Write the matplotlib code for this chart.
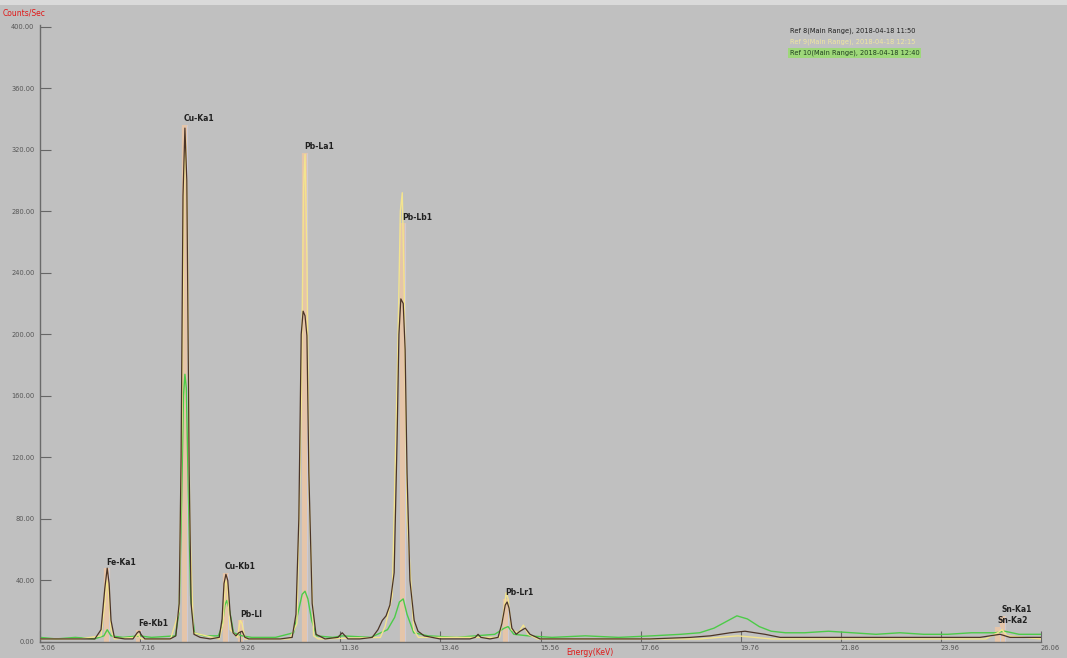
import matplotlib
matplotlib.use("Agg")
import matplotlib.pyplot as plt
from matplotlib.patches import Rectangle

# ---------------- data ----------------
series_names = ["Ref 8(Main Range), 2018-04-18 11:50",
                "Ref 9(Main Range), 2018-04-18 12:15",
                "Ref 10(Main Range), 2018-04-18 12:40"]

brown_e = [5.06, 5.90, 6.21, 6.34, 6.42, 6.47, 6.51, 6.55, 6.62, 6.84, 7.01, 7.10, 7.14, 7.20, 7.26,
           7.47, 7.79, 7.91, 7.98, 8.02, 8.06, 8.10, 8.14, 8.19, 8.23, 8.29, 8.42, 8.63, 8.82, 8.88,
           8.92, 8.96, 9.00, 9.05, 9.11, 9.17, 9.23, 9.30, 9.36, 9.44, 9.68, 10.10, 10.35, 10.43,
           10.49, 10.54, 10.58, 10.62, 10.66, 10.70, 10.77, 10.85, 11.04, 11.31, 11.40, 11.46,
           11.52, 11.77, 12.03, 12.15, 12.24, 12.32, 12.40, 12.49, 12.55, 12.59, 12.63, 12.68,
           12.72, 12.76, 12.82, 12.91, 12.99, 13.12, 13.45, 14.08, 14.19, 14.25, 14.31, 14.50,
           14.67, 14.75, 14.82, 14.86, 14.90, 14.96, 15.05, 15.13, 15.24, 15.34, 15.55, 16.81,
           17.86, 18.70, 19.12, 19.54, 19.85, 20.27, 20.59, 21.00, 22.05, 23.10, 24.15, 24.78,
           25.20, 25.41, 26.06]
brown_c = [2, 2, 2, 8, 35, 48, 38, 14, 3, 2, 2, 6, 7, 4, 2,
           2, 2, 4, 25, 120, 290, 334, 300, 110, 25, 5, 3, 2, 3, 15,
           38, 44, 40, 18, 6, 4, 6, 7, 3, 2, 2, 2, 3, 18,
           80, 200, 215, 212, 199, 110, 25, 5, 2, 3, 6, 4,
           2, 2, 3, 8, 14, 17, 24, 45, 130, 200, 223, 220,
           190, 110, 40, 14, 7, 4, 2, 2, 3, 5, 3, 2,
           3, 12, 24, 26, 22, 9, 5, 7, 9, 5, 2, 2,
           2, 3, 4, 6, 7, 5, 3, 3, 3, 3, 3, 3,
           5, 3, 3]

yellow_e = [5.06, 5.90, 6.34, 6.42, 6.46, 6.50, 6.55, 6.62, 7.05, 7.12, 7.18, 7.80, 7.98, 8.04,
            8.08, 8.11, 8.15, 8.20, 8.28, 8.82, 8.90, 8.95, 8.99, 9.05, 9.20, 9.26, 9.30, 9.36,
            10.30, 10.45, 10.54, 10.59, 10.62, 10.66, 10.71, 10.80, 10.90, 12.20, 12.30, 12.45,
            12.56, 12.62, 12.66, 12.70, 12.76, 12.90, 13.00, 14.70, 14.79, 14.84, 14.88, 14.95,
            15.10, 15.20, 15.30, 15.50, 18.90, 19.70, 20.40, 24.90, 25.15, 25.24, 25.35, 26.06]
yellow_c = [2, 2, 4, 25, 40, 32, 8, 2, 3, 5, 2, 2, 20, 150,
            300, 328, 280, 80, 6, 2, 12, 40, 36, 8, 3, 14, 12, 2,
            2, 12, 150, 295, 317, 250, 90, 4, 2, 3, 10, 30,
            180, 280, 292, 230, 80, 8, 3, 3, 20, 32, 28, 8,
            6, 11, 5, 2, 2, 4, 2, 2, 6, 8, 4, 2]

green_e = [5.06, 5.40, 5.80, 6.20, 6.40, 6.47, 6.55, 6.80, 7.14, 7.40, 7.90, 7.98, 8.03, 8.07,
           8.10, 8.13, 8.17, 8.22, 8.30, 8.50, 8.80, 8.88, 8.94, 8.98, 9.04, 9.12, 9.30, 9.50,
           10.00, 10.38, 10.48, 10.56, 10.62, 10.68, 10.76, 10.86, 11.20, 11.40, 12.00, 12.35,
           12.50, 12.60, 12.68, 12.76, 12.90, 13.20, 13.80, 14.20, 14.60, 14.80, 14.88, 15.00,
           15.30, 15.80, 16.50, 17.20, 17.90, 18.50, 18.90, 19.20, 19.50, 19.68, 19.90, 20.15,
           20.40, 20.70, 21.10, 21.60, 22.10, 22.60, 23.10, 23.60, 24.10, 24.60, 25.10, 25.30,
           25.60, 26.06]
green_c = [3, 2, 3, 2, 4, 8, 4, 3, 4, 3, 4, 20, 90, 160,
           174, 165, 100, 30, 6, 4, 4, 10, 24, 27, 20, 6, 4, 3,
           3, 6, 20, 31, 33, 28, 14, 4, 3, 4, 3, 8,
           16, 26, 28, 18, 6, 4, 3, 4, 5, 9, 10, 5,
           4, 3, 4, 3, 4, 5, 6, 9, 14, 17, 15, 10,
           7, 6, 6, 7, 6, 5, 6, 5, 5, 6, 6, 7,
           5, 5]

marker_labels = ["Fe-Ka1", "Fe-Kb1", "Cu-Ka1", "Cu-Kb1", "Pb-Ll", "Pb-La1", "Pb-Lb1", "Pb-Lr1",
                 "Sn-Ka2", "Sn-Ka1"]
marker_e = [6.47, 7.14, 8.10, 8.96, 9.28, 10.62, 12.68, 14.84, 25.16, 25.26]
marker_h = [48, 8, 336, 45, 14, 318, 272, 28, 10, 17]

x_ticks = [5.06, 7.16, 9.26, 11.36, 13.46, 15.56, 17.66, 19.76, 21.86, 23.96, 26.06]
x_tick_labels = ["5.06", "7.16", "9.26", "11.36", "13.46", "15.56", "17.66", "19.76",
                 "21.86", "23.96", "26.06"]
y_ticks = [0, 40, 80, 120, 160, 200, 240, 280, 320, 360, 400]
y_tick_labels = ["0.00", "40.00", "80.00", "120.00", "160.00", "200.00", "240.00",
                 "280.00", "320.00", "360.00", "400.00"]

# ---------------- styling ----------------
BG = "#c0c0c0"
BROWN = "#4b3427"
YELLOW = "#f3e48e"
GREEN = "#4ccb48"
PEACH = "#e5c5a9"

fig = plt.figure(figsize=(10.67, 6.58), dpi=100, facecolor=BG)
fig.patches.append(Rectangle((0, 1 - 5 / 658), 1, 5 / 658, transform=fig.transFigure,
                             facecolor="#dadada", edgecolor="none"))
ax = fig.add_axes([40 / 1067, 16 / 658, 1001 / 1067, 617 / 658])
ax.set_facecolor(BG)

ax.vlines(marker_e, 0, marker_h, colors=PEACH, linewidth=4.5, zorder=1)
ax.vlines([e + 0.045 for e in marker_e], 0, marker_h, colors="#c8cce0", linewidth=0.6, zorder=1)

ax.plot(green_e, green_c, color=GREEN, lw=1.0, zorder=2)
ax.plot(yellow_e, yellow_c, color=YELLOW, lw=1.0, zorder=3)
ax.plot(brown_e, brown_c, color=BROWN, lw=0.9, zorder=4)

for lab, e, h in zip(marker_labels, marker_e, marker_h):
    ax.text(e - 0.02, h + 1, lab, fontsize=5.5, fontweight="bold", color="#202020",
            ha="left", va="bottom", zorder=5)

ax.set_xlim(5.06, 26.06)
ax.set_ylim(0, 401)
ax.set_xticks(x_ticks)
ax.set_xticklabels(x_tick_labels, ha="left")
ax.set_yticks(y_ticks)
ax.set_yticklabels(y_tick_labels)
ax.tick_params(axis="both", direction="in", length=8, width=0.8, color="#666666",
               labelsize=4.8, labelcolor="#555555")
ax.tick_params(axis="x", pad=2)
ax.tick_params(axis="y", pad=4)
for s in ["top", "right"]:
    ax.spines[s].set_visible(False)
for s in ["left", "bottom"]:
    ax.spines[s].set_color("#6a6a6a")
    ax.spines[s].set_linewidth(1.0)

fig.text(3 / 1067, 1 - 13 / 658, "Counts/Sec", color="#e01818", fontsize=5.5,
         ha="left", va="center")
fig.text(566 / 1067, 1 / 658, "Energy(KeV)", color="#e01818", fontsize=5.5,
         ha="left", va="bottom")

# legend-like header
leg_colors = ["#202020", "#efe6a0", "#204020"]
leg_y = [31, 42, 53]
for name, c, yy in zip(series_names, leg_colors, leg_y):
    kw = {}
    if c == "#204020":
        kw["bbox"] = dict(facecolor="#9ed87a", edgecolor="none", pad=1.2)
    fig.text(790 / 1067, 1 - yy / 658, name, color=c, fontsize=4.8, ha="left",
             va="center", **kw)

fig.savefig("out.png", dpi=100, facecolor=BG)
